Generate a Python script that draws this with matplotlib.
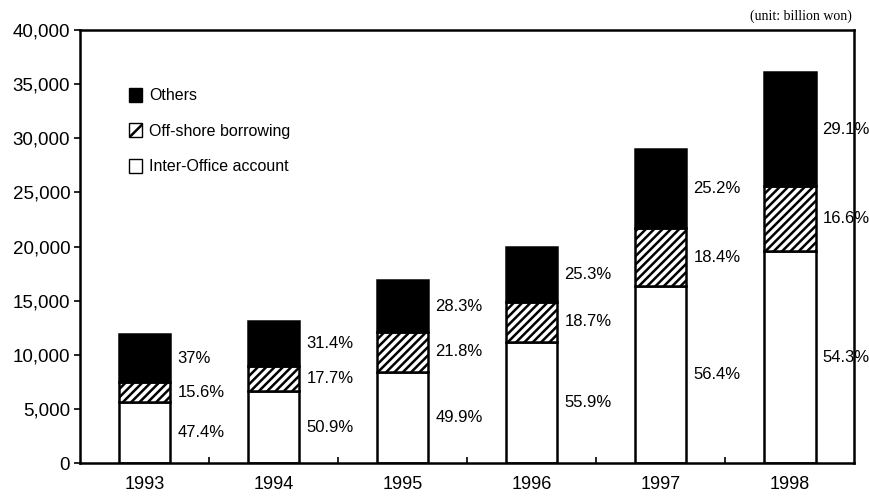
import numpy as np
import matplotlib
matplotlib.use("Agg")
import matplotlib.pyplot as plt
from matplotlib.patches import Patch

plt.rcParams['font.family'] = ['Liberation Sans', 'DejaVu Sans']
plt.rcParams['hatch.linewidth'] = 1.8

# data (billion won)
years = ['1993', '1994', '1995', '1996', '1997', '1998']
inter_office = [5640, 6670, 8430, 11180, 16360, 19600]
offshore = [1860, 2320, 3680, 3740, 5340, 5990]
others = [4400, 4110, 4790, 5060, 7300, 10500]
pct_inter = ['47.4%', '50.9%', '49.9%', '55.9%', '56.4%', '54.3%']
pct_off = ['15.6%', '17.7%', '21.8%', '18.7%', '18.4%', '16.6%']
pct_oth = ['37%', '31.4%', '28.3%', '25.3%', '25.2%', '29.1%']

fig = plt.figure(figsize=(8.69, 4.97), dpi=100)
ax = fig.add_axes([0.092, 0.068, 0.891, 0.872])

x = np.arange(len(years))
w = 0.40
inter_office = np.array(inter_office)
offshore = np.array(offshore)
others = np.array(others)

ax.bar(x, inter_office, w, color='white', edgecolor='black', linewidth=1.8)
ax.bar(x, offshore, w, bottom=inter_office, color='white', edgecolor='black',
       hatch='////', linewidth=1.8)
ax.bar(x, others, w, bottom=inter_office + offshore, color='black',
       edgecolor='black', linewidth=1.8)

# percentage labels to the right of each bar
for i in range(len(years)):
    xl = x[i] + w / 2 + 0.055
    ax.text(xl, inter_office[i] / 2, pct_inter[i], va='center', ha='left', fontsize=12)
    ax.text(xl, inter_office[i] + offshore[i] / 2, pct_off[i], va='center', ha='left', fontsize=12)
    ax.text(xl, inter_office[i] + offshore[i] + others[i] / 2, pct_oth[i],
            va='center', ha='left', fontsize=12)

ax.set_xlim(-0.5, len(years) - 0.5)
ax.set_ylim(0, 40000)
ax.set_yticks(np.arange(0, 40001, 5000))
ax.set_yticklabels([f'{v:,}' for v in range(0, 40001, 5000)], fontsize=13.5)
ax.tick_params(axis='y', direction='out', length=4, width=1.2, pad=3)

# year labels under bars, ticks at category boundaries
ax.set_xticks(np.arange(0.5, len(years) - 0.5, 1))
ax.set_xticklabels([])
ax.tick_params(axis='x', direction='in', length=4, width=1.2)
for i, yr in enumerate(years):
    ax.text(x[i], -1150, yr, ha='center', va='top', fontsize=13)

for s in ax.spines.values():
    s.set_linewidth(1.8)

handles = [Patch(facecolor='black', edgecolor='black', label='Others'),
           Patch(facecolor='white', edgecolor='black', hatch='//', label='Off-shore borrowing'),
           Patch(facecolor='white', edgecolor='black', label='Inter-Office account')]
ax.legend(handles=handles, loc='upper left', bbox_to_anchor=(0.045, 0.90), frameon=False,
          fontsize=11.5, handlelength=0.8, handleheight=1.0, handletextpad=0.45,
          labelspacing=1.25)

fig.text(0.98, 0.967, '(unit: billion won)', ha='right', va='center', fontsize=10,
         family=['Liberation Serif', 'DejaVu Serif'])

fig.savefig('out.png', dpi=100)
